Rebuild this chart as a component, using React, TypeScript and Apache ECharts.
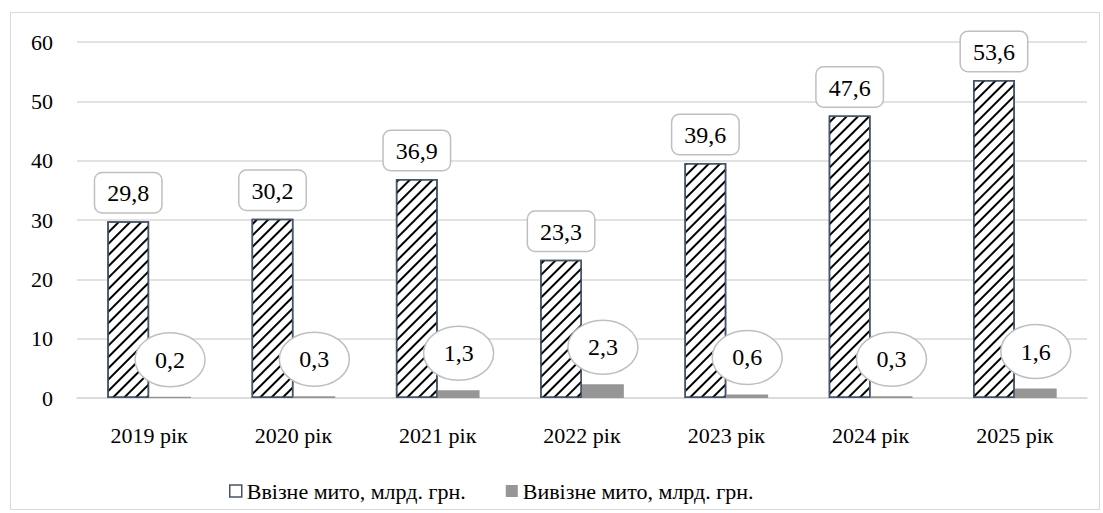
import React, { useEffect, useRef } from "react";
import * as echarts from "echarts";

const categories = ["2019 рік", "2020 рік", "2021 рік", "2022 рік", "2023 рік", "2024 рік", "2025 рік"];
const importDuty = [29.8, 30.2, 36.9, 23.3, 39.6, 47.6, 53.6];
const exportDuty = [0.2, 0.3, 1.3, 2.3, 0.6, 0.3, 1.6];
const seriesNames = ["Ввізне мито, млрд. грн.", "Вивізне мито, млрд. грн."];
const yTicks = { min: 0, max: 60, interval: 10 };

const FONT = "serif";
const fmt = (v: number) => String(v).replace(".", ",");

export default function App() {
  const ref = useRef<HTMLDivElement>(null);
  useEffect(() => {
    document.body.style.margin = "0";
    const chart = echarts.init(ref.current!, null, { renderer: "svg" });
    const txt = { fontFamily: FONT, color: "#000" };
    const option: any = {
      animation: false,
      backgroundColor: "#ffffff",
      textStyle: { fontFamily: FONT },
      graphic: [
        {
          type: "rect",
          shape: { x: 10.5, y: 12.5, width: 1089, height: 497 },
          style: { fill: "none", stroke: "#d9d9d9", lineWidth: 1 },
          silent: true,
          z: -10,
        },
      ],
      grid: { left: 77, right: 16, top: 42, bottom: 115 },
      legend: {
        left: 224,
        top: 475,
        itemWidth: 12,
        itemHeight: 12,
        itemGap: 40,
        icon: "rect",
        textStyle: { ...txt, fontSize: 22 },
        data: [
          { name: seriesNames[0], itemStyle: { color: "#ffffff", borderColor: "#44546a", borderWidth: 1.5, decal: "none" } },
          { name: seriesNames[1], itemStyle: { color: "#969696" } },
        ],
      },
      xAxis: {
        type: "category",
        data: categories,
        axisLine: { lineStyle: { color: "#d9d9d9", width: 1.5 } },
        axisTick: { show: false },
        axisLabel: { ...txt, fontSize: 22, margin: 26 },
      },
      yAxis: {
        type: "value",
        min: yTicks.min,
        max: yTicks.max,
        interval: yTicks.interval,
        axisLine: { show: false },
        axisTick: { show: false },
        splitLine: { lineStyle: { color: "#d9d9d9", width: 1.5 } },
        axisLabel: { ...txt, fontSize: 22, margin: 24 },
      },
      series: [
        {
          name: seriesNames[0],
          type: "bar",
          data: importDuty,
          barWidth: "29%",
          barGap: "0%",
          itemStyle: {
            color: "#ffffff",
            borderColor: "#44546a",
            borderWidth: 1.5,
            decal: {
              symbol: "rect",
              color: "#000000",
              backgroundColor: "#ffffff",
              dashArrayX: [1, 0],
              dashArrayY: [1.3, 6],
              rotation: -Math.PI / 4,
            },
          },
          label: {
            show: true,
            position: "top",
            distance: 9,
            formatter: (p: any) => fmt(p.value),
            ...txt,
            fontSize: 24,
            backgroundColor: "#ffffff",
            borderColor: "#bfbfbf",
            borderWidth: 1.5,
            borderRadius: 7,
            padding: [8, 12, 7, 12],
          },
        },
        {
          name: seriesNames[1],
          type: "bar",
          data: exportDuty,
          barWidth: "29%",
          itemStyle: { color: "#969696" },
        },
        {
          name: "exportLabels",
          type: "custom",
          z: 5,
          data: exportDuty.map((v, i) => [i, v]),
          renderItem: (params: any, api: any) => {
            const p = api.coord([api.value(0), api.value(1)]);
            const band = api.size([1, 0])[0];
            const cx = p[0] + band * 0.145;
            const cy = p[1] - 37;
            return {
              type: "group",
              children: [
                {
                  type: "ellipse",
                  shape: { cx, cy, rx: 35, ry: 27 },
                  style: { fill: "#ffffff", stroke: "#bfbfbf", lineWidth: 1.5 },
                },
                {
                  type: "text",
                  x: cx,
                  y: cy,
                  style: {
                    text: fmt(api.value(1)),
                    align: "center",
                    verticalAlign: "middle",
                    fontFamily: FONT,
                    fontSize: 24,
                    fill: "#000",
                  },
                },
              ],
            };
          },
        },
      ],
    };
    chart.setOption(option);
    return () => chart.dispose();
  }, []);
  return <div ref={ref} style={{ width: 1103, height: 513 }} />;
}
